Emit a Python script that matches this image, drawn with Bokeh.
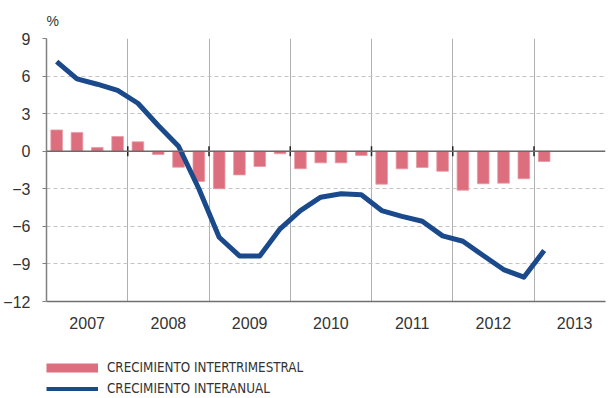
import numpy as np
from bokeh.plotting import figure
from bokeh.layouts import column
from bokeh.models import Range1d, FixedTicker, Span, Legend, LegendItem, Title, ColumnDataSource
from bokeh.embed import file_html
from bokeh.resources import INLINE

# ---- data ----
years = [2007, 2008, 2009, 2010, 2011, 2012, 2013]
year_labels = ["2007", "2008", "2009", "2010", "2011", "2012", "2013"]
quarters = ["I", "II", "III", "IV"]
y_ticks = [-12, -9, -6, -3, 0, 3, 6, 9]
series_names = ["CRECIMIENTO INTERTRIMESTRAL", "CRECIMIENTO INTERANUAL"]

# quarterly growth (bars), 2007 Q1 .. 2013 Q1
intertrimestral = [1.7, 1.5, 0.3, 1.17, 0.75, -0.26, -1.28, -2.42,
                   -3.0, -1.89, -1.22, -0.2, -1.4, -0.93, -0.93, -0.34,
                   -2.63, -1.41, -1.3, -1.6, -3.11, -2.6, -2.55, -2.2, -0.82]
# year-on-year growth (line)
interanual = [7.16, 5.78, 5.35, 4.85, 3.83, 2.05, 0.4, -3.0,
              -6.87, -8.36, -8.36, -6.2, -4.74, -3.67, -3.4, -3.48,
              -4.74, -5.2, -5.59, -6.76, -7.19, -8.33, -9.45, -10.06, -7.93]

PINK = "#dc6e7e"
BLUE = "#1b4a8c"
TXT = "#333333"
FONT = "Liberation Sans"

n = len(intertrimestral)
xq = [years[0] + (i + 0.5) / len(quarters) for i in range(n)]
src = ColumnDataSource(dict(x=xq, bar=intertrimestral, line=interanual))

boundaries = [y for y in years[1:]]
mids = [y + 0.5 for y in years]

W = 609
H1 = 333
H2 = 65
LEFT = 45

p = figure(width=W, height=H1, output_backend="svg", toolbar_location=None,
           x_range=Range1d(years[0], 2013.88), y_range=Range1d(-12, 9),
           min_border_left=LEFT, min_border_top=38, min_border_bottom=H1 - 301,
           min_border_right=4)
p.outline_line_color = None
p.background_fill_color = "white"
p.border_fill_color = "white"

# grids
p.ygrid.ticker = FixedTicker(ticks=[t for t in y_ticks if t not in (0, -12)])
p.ygrid.grid_line_color = "#c4c4c4"
p.ygrid.grid_line_dash = "4 3"
p.ygrid.grid_line_width = 1
p.xgrid.ticker = FixedTicker(ticks=boundaries)
p.xgrid.grid_line_color = "#b0b0b0"
p.xgrid.grid_line_width = 1

# bars
p.vbar(x="x", top="bar", bottom=0, width=0.143, source=src,
       fill_color=PINK, line_color="#e89aa5", line_width=0.8)

# zero line
p.add_layout(Span(location=0, dimension="width", line_color="#6a6a6a", line_width=1.5))
# small ticks on the zero line at year boundaries
p.segment(x0=boundaries, x1=boundaries, y0=[-0.4] * len(boundaries), y1=[0.4] * len(boundaries),
          line_color="#222222", line_width=1.5)

# line
p.line(x="x", y="line", source=src, line_color=BLUE, line_width=5, line_join="round")

# axes
p.yaxis.ticker = FixedTicker(ticks=y_ticks)
p.yaxis.major_tick_out = 4
p.yaxis.major_tick_in = 0
p.yaxis.minor_tick_line_color = None
p.yaxis.major_tick_line_color = "#808080"
p.yaxis.axis_line_color = "#808080"
p.yaxis.axis_line_width = 1.5
p.yaxis.major_label_standoff = 12
p.yaxis.major_label_text_font = FONT
p.yaxis.major_label_text_font_size = "16px"
p.yaxis.major_label_text_color = TXT

p.xaxis.ticker = FixedTicker(ticks=mids)
p.xaxis.major_label_overrides = {m: lab for m, lab in zip(mids, year_labels)}
p.xaxis.major_tick_line_color = None
p.xaxis.minor_tick_line_color = None
p.xaxis.axis_line_color = "#707070"
p.xaxis.axis_line_width = 1.5
p.xaxis.major_label_standoff = 9
p.xaxis.major_label_text_font = FONT
p.xaxis.major_label_text_font_size = "16px"
p.xaxis.major_label_text_color = TXT

# "%" unit label
p.add_layout(Title(text="%", align="left", text_font=FONT, text_font_size="14px",
                   text_font_style="normal", text_color=TXT, standoff=19, offset=0), "above")

# ---- legend figure ----
p2 = figure(width=W, height=H2, output_backend="svg", toolbar_location=None,
            x_range=Range1d(0, 1), y_range=Range1d(0, 1),
            x_axis_type=None, y_axis_type=None,
            min_border_left=0, min_border_right=0, min_border_top=0, min_border_bottom=0)
p2.outline_line_color = None
p2.xgrid.visible = False
p2.ygrid.visible = False
nan = np.array([np.nan])
pink_key = p2.line(x=nan, y=nan, line_color=PINK, line_width=9, line_cap="butt")
blue_key = p2.line(x=nan, y=nan, line_color=BLUE, line_width=4, line_cap="butt")
legend = Legend(items=[LegendItem(label=series_names[0], renderers=[pink_key]),
                       LegendItem(label=series_names[1], renderers=[blue_key])],
                location=(0, 1), orientation="vertical",
                glyph_width=52, glyph_height=17, label_height=17, spacing=4,
                label_standoff=9, padding=0, margin=0,
                label_text_font="DejaVu Sans Condensed",
                label_text_font_size="13.3px", label_text_color=TXT,
                background_fill_alpha=0, border_line_color=None)
p2.add_layout(legend, "center")

open("out.html", "w").write(file_html(column(p, p2, spacing=0), INLINE))
